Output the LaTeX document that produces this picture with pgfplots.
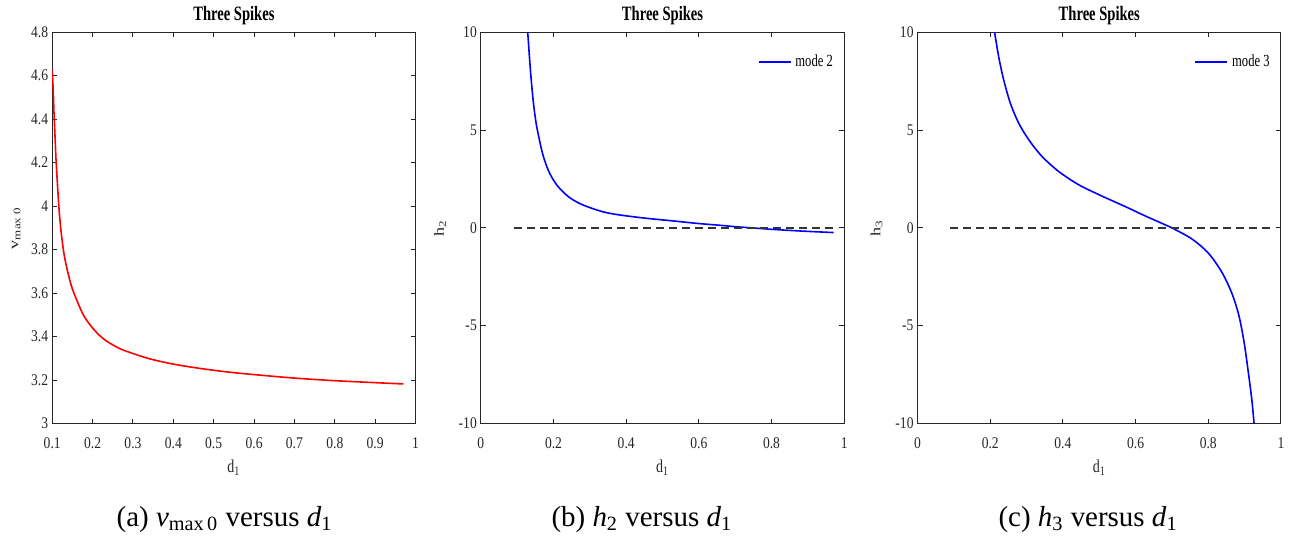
\documentclass[border=0pt]{standalone}
\usepackage{fontspec}
\setmainfont{Liberation Serif}
\usepackage{graphicx}
\usepackage{pgfplots}
\pgfplotsset{compat=1.18}

\definecolor{axgray}{rgb}{0.15,0.15,0.15}

\pgfplotsset{
  matfig/.style={
    scale only axis,
    width=182pt, height=196pt,
    axis line style={axgray, line width=0.5pt},
    tick style={axgray, line width=0.5pt},
    tick align=inside,
    major tick length=2.5pt,
    xtick pos=both, ytick pos=both,
    /pgf/number format/assume math mode=true,
    tick label style={font=\fontsize{6.8}{8}\selectfont, text=axgray, yscale=1.2},
    xticklabel style={yshift=-2.5pt},
    yticklabel style={xshift=1.5pt},
    title style={font=\fontsize{7.3}{8}\selectfont, yshift=-6pt},
    xlabel style={at={(axis description cs:0.5,0)}, anchor=center, yshift=-22pt,
                  font=\fontsize{7}{8}\selectfont, text=axgray},
    ylabel style={at={(axis description cs:0,0.5)}, anchor=center,
                  font=\fontsize{7}{8}\selectfont, text=axgray},
    legend style={draw=none, fill=none, at={(1,1)}, anchor=north east,
                  xshift=-2.5pt, yshift=-8pt,
                  font=\fontsize{6.3}{7}\selectfont, text=black,
                  inner sep=1pt},
    legend cell align=left,
    legend image code/.code={\draw[##1] (0pt,0pt) -- (16pt,0pt);},
  }
}

\begin{document}
\begin{tikzpicture}
\path (0pt,0pt) rectangle (645.5pt,268pt);

% (a)
\begin{axis}[matfig,
  at={(26.15pt,57.5pt)}, anchor=south west,
  xmin=0.1, xmax=1, ymin=3, ymax=4.8,
  xtick={0.1,0.2,...,1.0}, ytick={3,3.2,...,4.8},
  title={\scalebox{1}[1.4]{\bfseries Three Spikes}},
  xlabel={\scalebox{1}[1.3]{d\textsubscript{1}}},
  ylabel={\scalebox{1.3}[1]{v\textsubscript{max 0}}},
  ylabel style={yshift=18pt},
]
\addplot[red, line width=0.8pt, smooth, tension=0.5] coordinates {
  (0.1000,4.628) (0.1025,4.536) (0.1041,4.444) (0.1066,4.337) (0.1090,4.230)
  (0.1123,4.123) (0.1164,4.000) (0.1214,3.893) (0.1288,3.785) (0.1370,3.709)
  (0.1477,3.632) (0.1600,3.571) (0.1764,3.502) (0.1929,3.456) (0.2134,3.412)
  (0.2340,3.380) (0.2668,3.345) (0.3000,3.322) (0.3408,3.298) (0.3980,3.274)
  (0.4640,3.254) (0.5300,3.238) (0.6000,3.225) (0.7000,3.209) (0.8000,3.197)
  (0.9000,3.188) (0.9700,3.182)
};
\end{axis}
\node[font=\fontsize{14.5}{16}\selectfont] at (112.5pt,9.5pt)
  {(a) \textit{v}\textsubscript{max\,0} versus \textit{d}\textsubscript{1}};

% (b)
\begin{axis}[matfig,
  at={(240.85pt,57.5pt)}, anchor=south west,
  xmin=0, xmax=1, ymin=-10, ymax=10,
  xtick={0,0.2,...,1.0}, ytick={-10,-5,0,5,10},
  title={\scalebox{1}[1.4]{\bfseries Three Spikes}},
  xlabel={\scalebox{1}[1.3]{d\textsubscript{1}}},
  ylabel={\scalebox{1.3}[1]{h\textsubscript{2}}},
  ylabel style={yshift=20.5pt},
]
\addplot[blue, line width=0.8pt, smooth, tension=0.5] coordinates {
  (0.129,10) (0.1336,8.77) (0.138,7.70) (0.1447,6.38) (0.152,5.36)
  (0.161,4.51) (0.172,3.65) (0.189,2.80) (0.212,2.12) (0.244,1.55)
  (0.281,1.17) (0.336,0.82) (0.382,0.66) (0.450,0.50) (0.521,0.37)
  (0.600,0.22) (0.659,0.13) (0.700,0.06) (0.730,0.02) (0.797,-0.07)
  (0.850,-0.13) (0.900,-0.18) (0.971,-0.24)
};
\addlegendentry{\scalebox{1}[1.35]{mode 2}}
\addplot[black!80, line width=0.8pt, dash pattern=on 4pt off 2.5pt, forget plot]
  coordinates {(0.09,0) (0.97,0)};
\end{axis}
\node[font=\fontsize{14.5}{16}\selectfont] at (321.5pt,9.5pt)
  {(b) \textit{h}\textsubscript{2} versus \textit{d}\textsubscript{1}};

% (c)
\begin{axis}[matfig,
  at={(459.6pt,57.5pt)}, anchor=south west,
  xmin=0, xmax=1, ymin=-10, ymax=10,
  xtick={0,0.2,...,1.0}, ytick={-10,-5,0,5,10},
  title={\scalebox{1}[1.4]{\bfseries Three Spikes}},
  xlabel={\scalebox{1}[1.3]{d\textsubscript{1}}},
  ylabel={\scalebox{1.3}[1]{h\textsubscript{3}}},
  ylabel style={yshift=20.5pt},
]
\addplot[blue, line width=0.8pt, smooth, tension=0.5] coordinates {
  (0.2119,10) (0.2229,8.77) (0.2367,7.58) (0.2551,6.38) (0.278,5.36)
  (0.3057,4.51) (0.3424,3.65) (0.3884,2.88) (0.4436,2.20) (0.5079,1.62)
  (0.5724,1.08) (0.6276,0.60) (0.6919,0.07) (0.701,-0.01) (0.756,-0.58)
  (0.802,-1.33) (0.839,-2.32) (0.8665,-3.42) (0.885,-4.54) (0.899,-5.90)
  (0.9106,-7.44) (0.920,-8.81) (0.926,-10)
};
\addlegendentry{\scalebox{1}[1.35]{mode 3}}
\addplot[black!80, line width=0.8pt, dash pattern=on 4pt off 2.5pt, forget plot]
  coordinates {(0.09,0) (0.97,0)};
\end{axis}
\node[font=\fontsize{14.5}{16}\selectfont] at (545pt,9.5pt)
  {(c) \textit{h}\textsubscript{3} versus \textit{d}\textsubscript{1}};
\end{tikzpicture}
\end{document}
